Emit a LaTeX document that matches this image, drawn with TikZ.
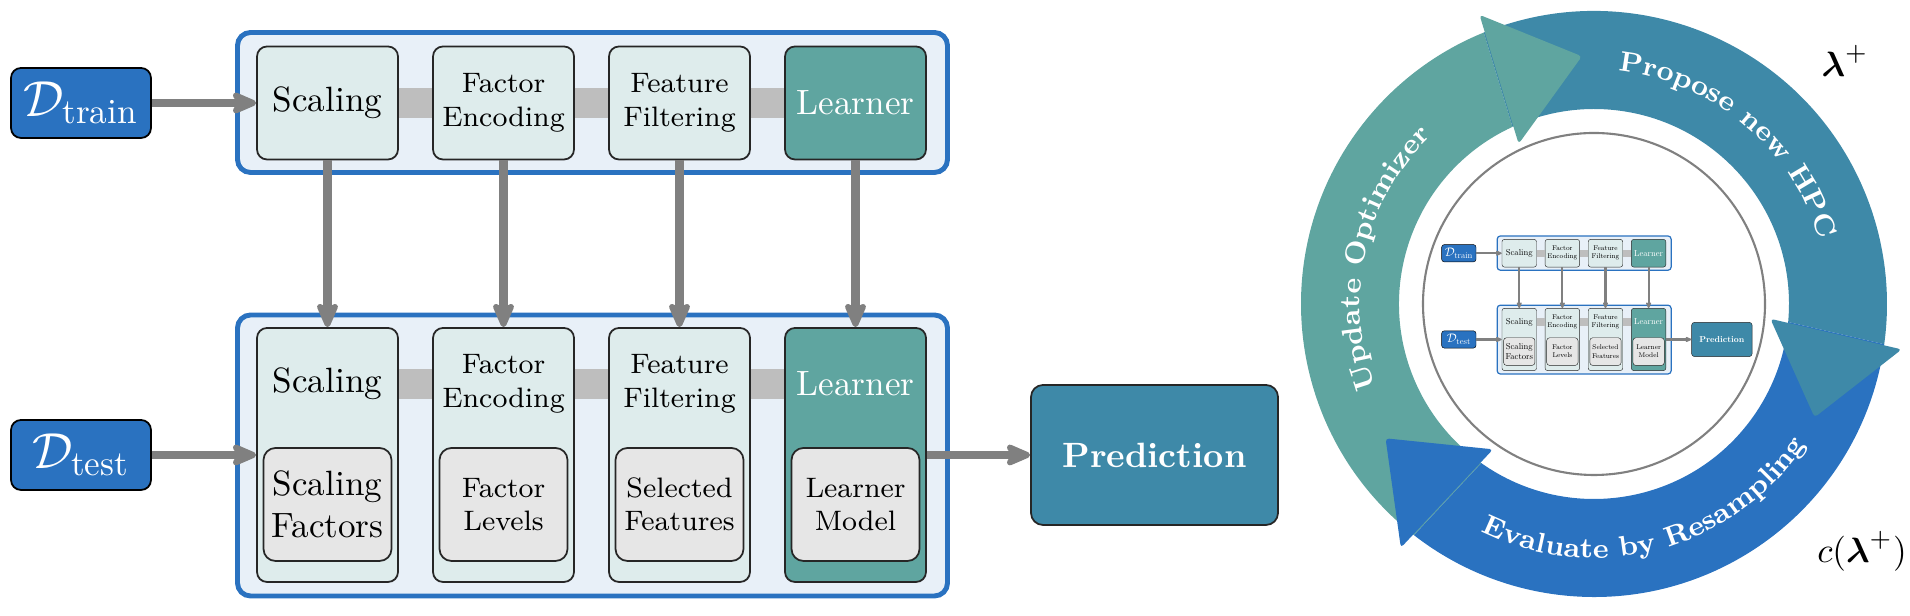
\documentclass[tikz,border=0pt]{standalone}
\usepackage{amsmath,amssymb}
\usepackage{xcolor}
\usepackage{tikz}
\usetikzlibrary{arrows.meta,positioning,calc,decorations.text}

\definecolor{dblue}{HTML}{2A72C0}
\definecolor{pblue}{HTML}{3E89A8}
\definecolor{lteal}{HTML}{5FA5A0}
\definecolor{stagebg}{HTML}{E8F0F8}
\definecolor{opbg}{HTML}{DEECEC}
\definecolor{modelbg}{HTML}{E6E6E6}
\definecolor{arrgray}{HTML}{808080}
\definecolor{bandgray}{HTML}{BEBEBE}

\tikzset{
  stage/.style={draw=dblue, fill=stagebg, line width=1.4pt, rounded corners=0.13cm},
  opbox/.style={draw=black!85, fill=opbg, rounded corners=0.1cm, line width=0.5pt,
    minimum width=1.41cm, align=center, inner sep=0pt},
  learnbox/.style={opbox, fill=lteal, text=white},
  modelbox/.style={draw=black!85, fill=modelbg, rounded corners=0.12cm, line width=0.5pt,
    minimum width=1.28cm, minimum height=1.13cm, align=center, inner sep=0pt},
  databox/.style={draw=black, fill=dblue, rounded corners=0.1cm, line width=0.5pt,
    minimum width=1.4cm, minimum height=0.7cm, text=white, font=\Large, inner sep=0pt},
  predbox/.style={draw=black!85, fill=pblue, rounded corners=0.12cm, line width=0.5pt,
    minimum width=2.47cm, minimum height=1.4cm, text=white, font=\bfseries},
  flow/.style={draw=arrgray, line width=2.5pt, -{Stealth[length=9pt, width=7.6pt, inset=2.3pt, round]}},
  link/.style={draw=bandgray, line width=8.5pt},
  ringline/.style={draw=arrgray, line width=0.6pt},
}

\newcommand{\arcfont}{\fontsize{8}{10}\selectfont\bfseries}

% the tuned pipeline, #1 = suffix for node names
\newcommand{\pipeline}[1]{%
  % training stage
  \draw[stage] (2.375,-0.325) rectangle (9.475,-1.725);
  \node[databox] (dtrain#1) at (0.81,-1.03) {$\mathcal{D}_{\text{train}}$};
  \node[opbox, minimum height=1.13cm] (scal1#1) at (3.275,-1.03) {Scaling};
  \node[opbox, minimum height=1.13cm, font=\footnotesize] (fenc1#1) at (5.035,-1.03) {Factor\\Encoding};
  \node[opbox, minimum height=1.13cm, font=\footnotesize] (ffil1#1) at (6.795,-1.03) {Feature\\Filtering};
  \node[learnbox, minimum height=1.13cm] (lrn1#1) at (8.555,-1.03) {Learner};
  \draw[link] (scal1#1.east) -- (fenc1#1.west);
  \draw[link] (fenc1#1.east) -- (ffil1#1.west);
  \draw[link] (ffil1#1.east) -- (lrn1#1.west);
  % prediction stage
  \draw[stage] (2.375,-3.15) rectangle (9.475,-5.96);
  \node[databox] (dtest#1) at (0.81,-4.55) {$\mathcal{D}_{\text{test}}$};
  \node[opbox, minimum height=2.54cm] (scal2#1) at (3.275,-4.55) {};
  \node[opbox, minimum height=2.54cm] (fenc2#1) at (5.035,-4.55) {};
  \node[opbox, minimum height=2.54cm] (ffil2#1) at (6.795,-4.55) {};
  \node[learnbox, minimum height=2.54cm] (lrn2#1) at (8.555,-4.55) {};
  \node (scalt#1) at (3.275,-3.84) {Scaling};
  \node[font=\footnotesize, align=center] (fenct#1) at (5.035,-3.84) {Factor\\Encoding};
  \node[font=\footnotesize, align=center] (ffilt#1) at (6.795,-3.84) {Feature\\Filtering};
  \node[text=white] (lrnt#1) at (8.555,-3.84) {Learner};
  \node[modelbox] (scalm#1) at (3.275,-5.045) {Scaling\\Factors};
  \node[modelbox, font=\footnotesize] (fencm#1) at (5.035,-5.045) {Factor\\Levels};
  \node[modelbox, font=\footnotesize] (ffilm#1) at (6.795,-5.045) {Selected\\Features};
  \node[modelbox, font=\footnotesize] (lrnm#1) at (8.555,-5.045) {Learner\\Model};
  \draw[link] (scalt#1 -| scal2#1.east) -- (fenct#1 -| fenc2#1.west);
  \draw[link] (fenct#1 -| fenc2#1.east) -- (ffilt#1 -| ffil2#1.west);
  \draw[link] (ffilt#1 -| ffil2#1.east) -- (lrnt#1 -| lrn2#1.west);
  \node[predbox] (pred#1) at (11.545,-4.55) {Prediction};
  % arrows
  \draw[flow] (dtrain#1) -- (scal1#1);
  \draw[flow] (dtest#1) -- (scal2#1);
  \foreach \s in {scal,fenc,ffil,lrn}
    \draw[flow] (\s1#1) -- (\s2#1);
  \draw[flow] (lrn2#1) -- (pred#1);
}

\begin{document}
\begin{tikzpicture}
  \useasboundingbox (0,0) rectangle (19.10,-6.16);

  \pipeline{}

  % tuning cycle
  \begin{scope}[shift={(15.94,-3.04)}]
    \draw[ringline] (0,0) circle (1.71);
    % bands, then heads on top
    \foreach \b/\c in {115.2/lteal, 355.2/pblue, 235.2/dblue}
      \fill[\c] (\b+120-3.1:2.93) arc[start angle=\b+120-3.1, end angle=\b-3.1, radius=2.93]
        -- (\b-0.5:1.95) arc[start angle=\b-0.5, end angle=\b+120-0.5, radius=1.95] -- cycle;
    \foreach \b/\c in {115.2/lteal, 355.2/pblue, 235.2/dblue}
      \fill[\c, rounded corners=1pt] (\b:1.77) -- (\b-22.4:2.48) -- (\b-3.6:3.11) -- cycle;
    % texts along the ring
    \path[decorate, decoration={text along path, text color=white, text align=center,
      text={|\arcfont|Update Optimizer}}] (222.5:2.34) arc[start angle=222.5, end angle=112.5, radius=2.34];
    \path[decorate, decoration={text along path, text color=white, text align=center,
      text={|\arcfont|Propose new HPC}}] (105:2.34) arc[start angle=105, end angle=-5, radius=2.34];
    \path[decorate, decoration={text along path, text color=white, text align=center,
      text={|\arcfont|Evaluate by Resampling}}] (215:2.54) arc[start angle=215, end angle=355, radius=2.54];
  \end{scope}
  \node (lam) at (18.45,-0.61) {$\boldsymbol{\lambda}^+$};
  \node (cost) at (18.62,-5.51) {$c(\boldsymbol{\lambda}^+)$};

  % small copy of the pipeline inside the cycle
  \begin{scope}[transform canvas={shift={(14.39,-2.28)}, scale=0.245}]
    \pipeline{s}
  \end{scope}
\end{tikzpicture}
\end{document}
